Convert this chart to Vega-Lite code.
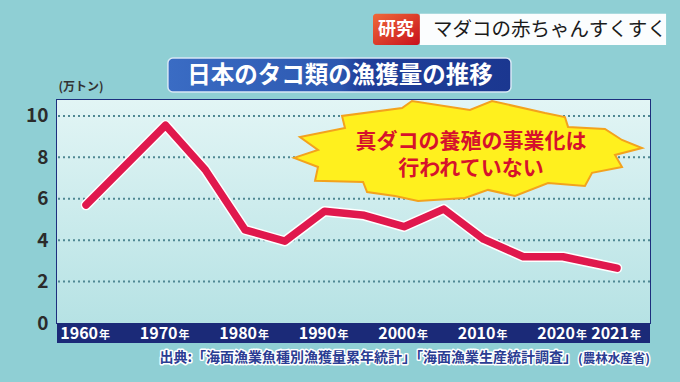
{
  "$schema": "https://vega.github.io/schema/vega-lite/v6.json",
  "width": 593,
  "height": 223,
  "autosize": {"type": "none"},
  "padding": {"left": 57, "top": 100, "right": 30, "bottom": 59},
  "background": "#8fcfd4",
  "view": {"stroke": "#1d2f7e", "strokeWidth": 2, "fill": null},
  "config": {"font": "Noto Sans CJK JP"},
  "datasets": {
    "catch": [
      {"year": 1960, "value": 5.7},
      {"year": 1970, "value": 9.55},
      {"year": 1975, "value": 7.4},
      {"year": 1980, "value": 4.5},
      {"year": 1985, "value": 3.95},
      {"year": 1990, "value": 5.4},
      {"year": 1995, "value": 5.2},
      {"year": 2000, "value": 4.65},
      {"year": 2005, "value": 5.5},
      {"year": 2010, "value": 4.05},
      {"year": 2015, "value": 3.2},
      {"year": 2020, "value": 3.2},
      {"year": 2021, "value": 2.65}
    ],
    "gridValues": [{"tick": 2}, {"tick": 4}, {"tick": 6}, {"tick": 8}, {"tick": 10}],
    "one": [{}]
  },
  "layer": [
    {
      "data": {"name": "one"},
      "mark": {
        "type": "rect",
        "fill": {"gradient": "linear", "x1": 0, "y1": 0, "x2": 0, "y2": 1, "stops": [{"offset": 0, "color": "#e2f5f5"}, {"offset": 1, "color": "#b6e2e4"}]}
      },
      "encoding": {
        "y": {
          "datum": 10.77, "type": "quantitative",
          "scale": {"domain": [0, 10.77], "nice": false, "zero": false},
          "axis": {
            "values": [0, 2, 4, 6, 8, 10], "domain": false, "ticks": false, "grid": false,
            "labelFontSize": 19, "labelFontWeight": "bold", "labelColor": "#2b2b2b", "labelPadding": 9,
            "title": "(万トン)", "titleAngle": 0, "titleX": 1, "titleY": -14, "titleAlign": "left", "titleBaseline": "middle",
            "titleFontSize": 12, "titleFontWeight": "bold", "titleColor": "#333333"
          }
        },
        "y2": {"datum": 0}
      }
    },
    {
      "data": {"name": "gridValues"},
      "mark": {"type": "rule", "stroke": "#4f8893", "strokeWidth": 2, "strokeDash": [2, 3]},
      "encoding": {
        "y": {"field": "tick", "type": "quantitative"}
      }
    },
    {
      "data": {"name": "one"},
      "mark": {"type": "rect", "clip": false, "fill": "#1b2a78"},
      "encoding": {
        "y": {"datum": 0, "type": "quantitative"},
        "y2": {"datum": -0.966}
      }
    },
    {
      "data": {"name": "catch"},
      "mark": {"type": "line", "stroke": "white", "strokeWidth": 10.5, "strokeCap": "round", "strokeJoin": "round"},
      "encoding": {
        "x": {
          "field": "year", "type": "quantitative",
          "scale": {"domain": [1956.35, 2020, 2021, 2021.61], "range": [0, 506, 560, 593], "nice": false, "zero": false},
          "axis": {"labels": false, "title": null, "grid": false, "ticks": false, "domain": false}
        },
        "y": {"field": "value", "type": "quantitative"}
      }
    },
    {
      "data": {"name": "catch"},
      "mark": {"type": "line", "stroke": "#e0184d", "strokeWidth": 7.5, "strokeCap": "round", "strokeJoin": "round"},
      "encoding": {
        "x": {"field": "year", "type": "quantitative"},
        "y": {"field": "value", "type": "quantitative"}
      }
    },
    {
      "data": {"name": "catch"},
      "transform": [{"filter": "datum.year % 10 == 0 || datum.year == 2021"}],
      "mark": {"type": "text", "clip": false, "fontSize": 16, "fontWeight": "bold", "fill": "white", "align": "right", "baseline": "alphabetic", "dx": 12},
      "encoding": {
        "x": {"field": "year", "type": "quantitative"},
        "y": {"datum": -0.773, "type": "quantitative"},
        "text": {"field": "year", "type": "quantitative", "format": "d"}
      }
    },
    {
      "data": {"name": "catch"},
      "transform": [{"filter": "datum.year % 10 == 0 || datum.year == 2021"}],
      "mark": {"type": "text", "text": "年", "clip": false, "fontSize": 11, "fontWeight": "bold", "fill": "white", "align": "left", "baseline": "alphabetic", "dx": 13},
      "encoding": {
        "x": {"field": "year", "type": "quantitative"},
        "y": {"datum": -0.773, "type": "quantitative"}
      }
    },
    {
      "data": {"name": "one"},
      "mark": {
        "type": "point", "filled": true, "opacity": 1, "fill": "#fff01e", "stroke": "#f3a21d", "strokeWidth": 2, "size": 121104,
        "shape": "M-1,0.04L-0.862,-0.006L-0.966,-0.08L-0.707,-0.132L-0.724,-0.201L-0.379,-0.247L-0.322,-0.287L0.011,-0.236L0.138,-0.287L0.443,-0.218L0.557,-0.195L0.575,-0.138L0.787,-0.126L0.885,-0.063L1,-0.017L0.845,0.023L0.885,0.092L0.713,0.126L0.672,0.201L0.46,0.184L0.27,0.259L0.115,0.224L-0.017,0.27L-0.287,0.287L-0.42,0.259L-0.58,0.236L-0.603,0.178L-0.879,0.172L-0.862,0.092Z"
      },
      "encoding": {
        "x": {"datum": 2008.05, "type": "quantitative"},
        "y": {"datum": 8.31, "type": "quantitative"}
      }
    },
    {
      "data": {"name": "one"},
      "mark": {"type": "text", "text": "真ダコの養殖の事業化は", "fontSize": 21, "fontWeight": "bold", "fill": "#d6122c", "align": "center", "baseline": "middle"},
      "encoding": {
        "x": {"datum": 2008.43, "type": "quantitative"},
        "y": {"datum": 8.75, "type": "quantitative"}
      }
    },
    {
      "data": {"name": "one"},
      "mark": {"type": "text", "text": "行われていない", "fontSize": 21, "fontWeight": "bold", "fill": "#d6122c", "align": "center", "baseline": "middle"},
      "encoding": {
        "x": {"datum": 2008.43, "type": "quantitative"},
        "y": {"datum": 7.44, "type": "quantitative"}
      }
    },
    {
      "data": {"name": "one"},
      "mark": {
        "type": "rect", "clip": false, "cornerRadius": 5, "stroke": "#d8e8f5", "strokeWidth": 1.5,
        "fill": {"gradient": "linear", "x1": 0, "y1": 0, "x2": 1, "y2": 0, "stops": [{"offset": 0, "color": "#3a6cc4"}, {"offset": 0.5, "color": "#2d58b0"}, {"offset": 0.56, "color": "#1f3f9a"}, {"offset": 1, "color": "#1b3790"}]}
      },
      "encoding": {
        "x": {"datum": 1970.3, "type": "quantitative"},
        "x2": {"datum": 2013.46},
        "y": {"datum": 12.8, "type": "quantitative"},
        "y2": {"datum": 11.16}
      }
    },
    {
      "data": {"name": "one"},
      "mark": {"type": "text", "text": "日本のタコ類の漁獲量の推移", "fontSize": 23.5, "fontWeight": "bold", "fill": "white", "align": "center", "baseline": "middle"},
      "encoding": {
        "x": {"datum": 1991.95, "type": "quantitative"},
        "y": {"datum": 11.93, "type": "quantitative"}
      }
    },
    {
      "data": {"name": "one"},
      "mark": {
        "type": "rect", "clip": false, "cornerRadius": 3,
        "fill": {"gradient": "linear", "x1": 0, "y1": 0, "x2": 1, "y2": 1, "stops": [{"offset": 0, "color": "#ef6a3a"}, {"offset": 1, "color": "#c8101c"}]}
      },
      "encoding": {
        "x": {"datum": 1996.1, "type": "quantitative"},
        "x2": {"datum": 2002.0},
        "y": {"datum": 14.93, "type": "quantitative"},
        "y2": {"datum": 13.43}
      }
    },
    {
      "data": {"name": "one"},
      "mark": {"type": "rect", "clip": false, "fill": "#ffffff", "opacity": 0.96},
      "encoding": {
        "x": {"datum": 2002.0, "type": "quantitative"},
        "x2": {"datum": 2021.907},
        "y": {"datum": 14.93, "type": "quantitative"},
        "y2": {"datum": 13.43}
      }
    },
    {
      "data": {"name": "one"},
      "mark": {"type": "text", "text": "研究", "fontSize": 18, "fontWeight": "bold", "fill": "white", "align": "center", "baseline": "middle"},
      "encoding": {
        "x": {"datum": 1999.0, "type": "quantitative"},
        "y": {"datum": 14.15, "type": "quantitative"}
      }
    },
    {
      "data": {"name": "one"},
      "mark": {"type": "text", "text": "マダコの赤ちゃんすくすく", "fontSize": 19.5, "fontWeight": "normal", "fill": "#1a1a1a", "align": "left", "baseline": "middle"},
      "encoding": {
        "x": {"datum": 2003.65, "type": "quantitative"},
        "y": {"datum": 14.15, "type": "quantitative"}
      }
    },
    {
      "data": {"name": "one"},
      "mark": {"type": "text", "text": "出典:「海面漁業魚種別漁獲量累年統計」「海面漁業生産統計調査」", "fontSize": 14, "fontWeight": "bold", "fill": "white", "stroke": "white", "strokeWidth": 3, "strokeJoin": "round", "align": "right", "baseline": "middle"},
      "encoding": {
        "x": {"datum": 2020.26, "type": "quantitative"},
        "y": {"datum": -1.7, "type": "quantitative"}
      }
    },
    {
      "data": {"name": "one"},
      "mark": {"type": "text", "text": "出典:「海面漁業魚種別漁獲量累年統計」「海面漁業生産統計調査」", "fontSize": 14, "fontWeight": "bold", "fill": "#2b3d93", "align": "right", "baseline": "middle"},
      "encoding": {
        "x": {"datum": 2020.26, "type": "quantitative"},
        "y": {"datum": -1.7, "type": "quantitative"}
      }
    },
    {
      "data": {"name": "one"},
      "mark": {"type": "text", "text": "(農林水産省)", "fontSize": 12.5, "fontWeight": "bold", "fill": "white", "stroke": "white", "strokeWidth": 3, "strokeJoin": "round", "align": "left", "baseline": "middle"},
      "encoding": {
        "x": {"datum": 2020.28, "type": "quantitative"},
        "y": {"datum": -1.72, "type": "quantitative"}
      }
    },
    {
      "data": {"name": "one"},
      "mark": {"type": "text", "text": "(農林水産省)", "fontSize": 12.5, "fontWeight": "bold", "fill": "#2b3d93", "align": "left", "baseline": "middle"},
      "encoding": {
        "x": {"datum": 2020.28, "type": "quantitative"},
        "y": {"datum": -1.72, "type": "quantitative"}
      }
    }
  ]
}
